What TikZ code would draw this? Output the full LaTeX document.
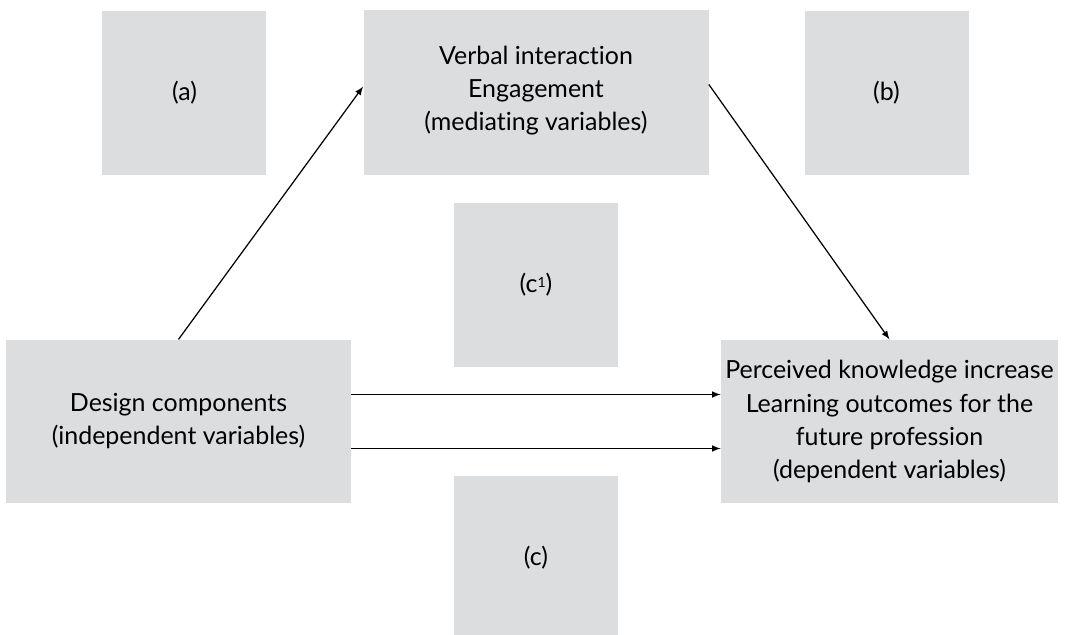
\documentclass[tikz,border=0pt]{standalone}
\usepackage{fontspec}
\setmainfont[Ligatures=NoCommon]{Lato}
\definecolor{boxgray}{HTML}{DCDDDF}
\begin{document}
\begin{tikzpicture}
    \tikzset{var/.style={fill=boxgray,minimum width=6.9cm,minimum
        height=3.27cm,inner sep=0pt,align=center,font=\fontsize{14.2}{18.8}\selectfont},
      lbl/.style={var,minimum width=3.28cm,minimum height=3.28cm},
      link/.style={->,>=latex,line width=0.7pt}}
    \useasboundingbox (-3.57,-4.27) rectangle (17.75,8.43);
    \node[var] (design) {Design components\\(independent variables)};
    \node[var,minimum width=6.74cm] (outcome) [right
    of=design,xshift=13.22cm] {Perceived knowledge increase\\Learning
      outcomes for the\\future profession\\(dependent variables)};
    \node[lbl] (c1) [right of=design,xshift=6.15cm,yshift=2.73cm] {(c{\fontsize{8}{8}\selectfont\raisebox{0.8ex}{1}})};
    \node[lbl] (c) [right of=design,xshift=6.15cm,yshift=-2.73cm] {(c)};
    \node[var,minimum height=3.3cm] (mediator) [above of=c1,yshift=2.84cm]
    {Verbal interaction\\Engagement\\(mediating variables)\\[-13pt]\mbox{}};
    \node[lbl] (a) [left of=mediator,xshift=-6.03cm] {(a)};
    \node[lbl] (b) [right of=mediator,xshift=6.01cm] {(b)};

    \draw[link] (design.north) -- ([yshift=1.3mm]mediator.west);
    \draw[link] ([yshift=1.7mm]mediator.east) -- (outcome.north);
    \draw[link] ([yshift=5.4mm]design.east) -- ([yshift=5.4mm]outcome.west);
    \draw[link] ([yshift=-5.4mm]design.east) -- ([yshift=-5.4mm]outcome.west);

  \end{tikzpicture}
\end{document}
